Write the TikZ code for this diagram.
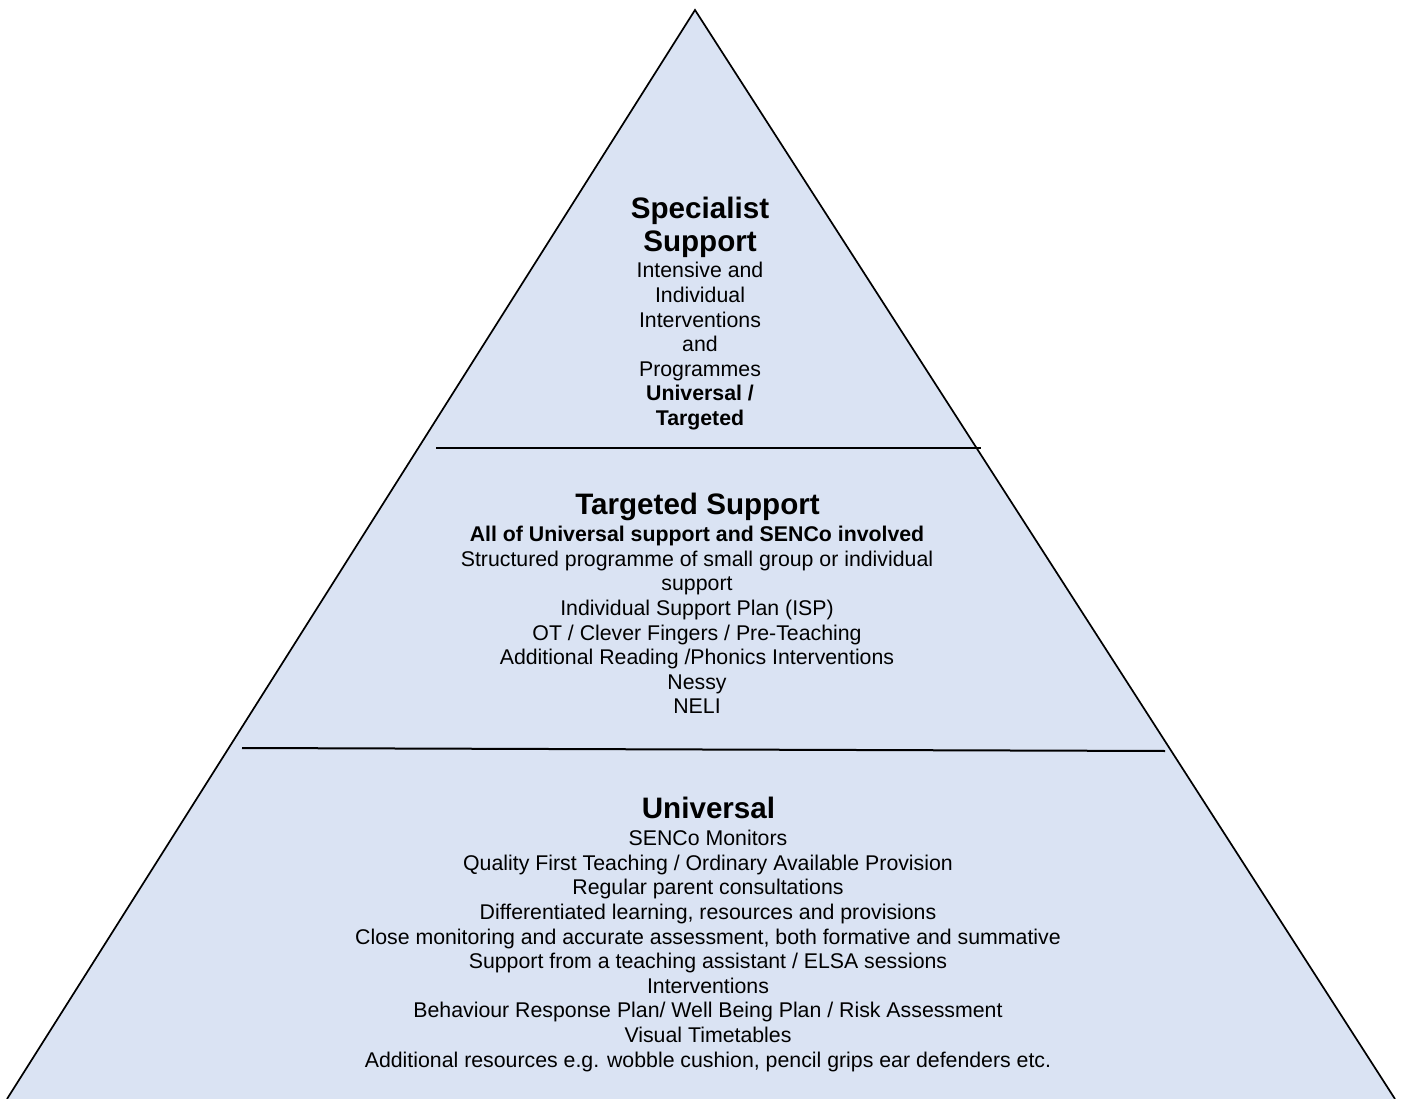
\documentclass[tikz,border=0pt]{standalone}
\usepackage{fontspec}
\setmainfont{Liberation Sans}
\definecolor{tierfill}{HTML}{DAE3F3}
\begin{document}
\begin{tikzpicture}[x=1pt,y=-1pt,
  bodytext/.style={font=\fontsize{21.3}{24.6}\selectfont, align=center, inner sep=0pt, anchor=center},
  titletext/.style={font=\fontsize{29.6}{33}\selectfont\bfseries, align=center, inner sep=0pt, anchor=center},
  edge/.style={line width=1.7pt, black, line join=miter},
  divider/.style={line width=1.7pt, black}]
\useasboundingbox (0,0) rectangle (1401,1099);
% pyramid
\fill[tierfill] (7,1099) -- (695,10) -- (1395,1099) -- cycle;
\draw[edge] (7,1099) -- (695,10) -- (1395,1099);
% dividers
\coordinate (d1l) at (436,448);
\coordinate (d1r) at (981,448);
\coordinate (d2l) at (242,748);
\coordinate (d2r) at (1165,751);
\draw[divider] (d1l) -- (d1r);
\draw[divider, line width=2pt] (d2l) -- (d2r);
% specialist
\node[titletext] (spect) at (700,227.6) {Specialist\\Support};
\node[bodytext] (specb) at (700,346.3) {Intensive and\\Individual\\Interventions\\and\\Programmes\\\textbf{Universal /}\\\textbf{Targeted}};
% targeted
\node[titletext] (targt) at (697.5,507) {Targeted Support};
\node[bodytext] (targb) at (697,620.1) {\textbf{All of Universal support and SENCo involved}\\Structured programme of small group or individual\\support\\Individual Support Plan (ISP)\\OT / Clever Fingers / Pre-Teaching\\Additional Reading /Phonics Interventions\\Nessy\\NELI};
% universal
\node[titletext] (univt) at (708.5,808) {Universal};
\node[bodytext] (univb) at (708,950.8) {SENCo Monitors\\Quality First Teaching / Ordinary Available Provision\\Regular parent consultations\\Differentiated learning, resources and provisions\\Close monitoring and accurate assessment, both formative and summative\\Support from a teaching assistant / ELSA sessions\\Interventions\\Behaviour Response Plan/ Well Being Plan / Risk Assessment\\Visual Timetables\\Additional resources e.g. wobble cushion, pencil grips ear defenders etc.};
\end{tikzpicture}
\end{document}
